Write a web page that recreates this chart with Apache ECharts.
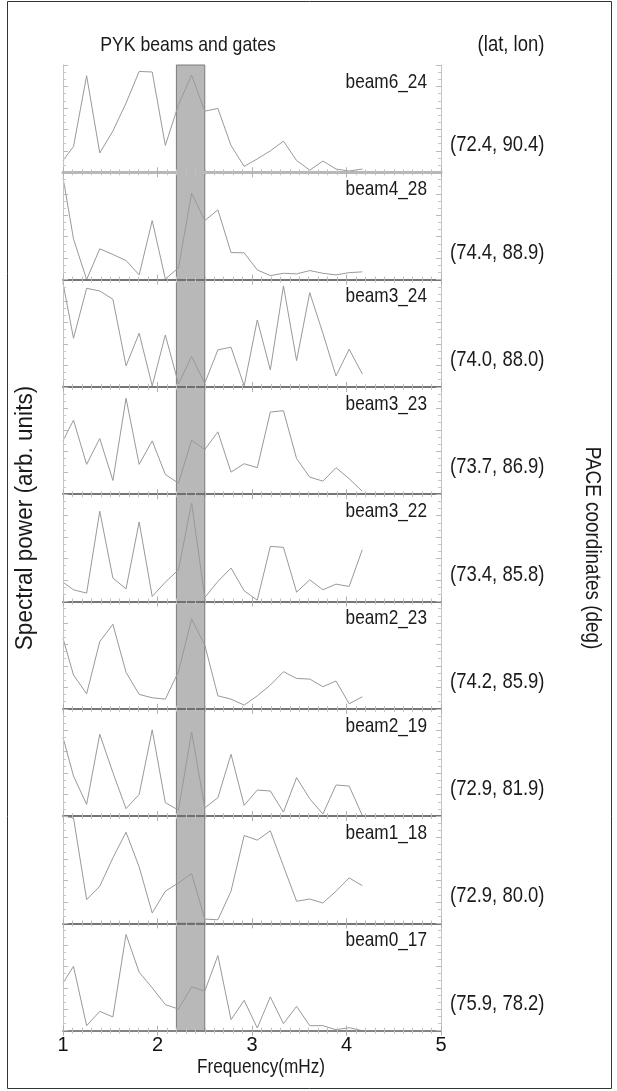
<!DOCTYPE html>
<html>
<head>
<meta charset="utf-8">
<script src="https://cdn.jsdelivr.net/npm/echarts@6/dist/echarts.min.js"></script>
<style>
html,body{margin:0;padding:0;background:#fff;}
#chart{width:617px;height:1091px;}
</style>
</head>
<body>
<div id="chart"></div>
<script>
// ---- data ----
var freqs = [1.0, 1.111, 1.25, 1.389, 1.528, 1.667, 1.806, 1.944, 2.083, 2.222, 2.361, 2.5, 2.639, 2.778, 2.917, 3.056, 3.194, 3.333, 3.472, 3.611, 3.75, 3.889, 4.028, 4.167];
var panelNames = ["beam6_24", "beam4_28", "beam3_24", "beam3_23", "beam3_22", "beam2_23", "beam2_19", "beam1_18", "beam0_17"];
var coordLabels = ["(72.4, 90.4)", "(74.4, 88.9)", "(74.0, 88.0)", "(73.7, 86.9)", "(73.4, 85.8)", "(74.2, 85.9)", "(72.9, 81.9)", "(72.9, 80.0)", "(75.9, 78.2)"];
var beam6_24 = [0.11, 0.24, 0.90, 0.18, 0.385, 0.645, 0.94, 0.935, 0.25, 0.63, 0.905, 0.57, 0.595, 0.25, 0.055, 0.125, 0.20, 0.29, 0.11, 0.02, 0.105, 0.03, 0.012, 0.03];
var beam4_28 = [0.95, 0.38, 0.0, 0.287, 0.234, 0.178, 0.044, 0.55, 0.006, 0.109, 0.807, 0.55, 0.65, 0.252, 0.249, 0.09, 0.037, 0.059, 0.053, 0.084, 0.059, 0.044, 0.065, 0.072];
var beam3_24 = [0.97, 0.453, 0.919, 0.894, 0.817, 0.196, 0.50, 0.01, 0.484, 0.028, 0.283, 0.034, 0.345, 0.37, 0.01, 0.624, 0.158, 0.941, 0.245, 0.879, 0.50, 0.102, 0.351, 0.121];
var beam3_23 = [0.50, 0.69, 0.278, 0.519, 0.128, 0.894, 0.278, 0.497, 0.184, 0.103, 0.503, 0.416, 0.581, 0.206, 0.284, 0.247, 0.766, 0.778, 0.331, 0.159, 0.122, 0.247, 0.144, 0.028];
var beam3_22 = [0.18, 0.109, 0.078, 0.841, 0.218, 0.118, 0.741, 0.047, 0.18, 0.296, 0.919, 0.037, 0.187, 0.312, 0.10, 0.012, 0.514, 0.505, 0.087, 0.202, 0.109, 0.162, 0.14, 0.483];
var beam2_23 = [0.657, 0.315, 0.14, 0.626, 0.788, 0.34, 0.134, 0.103, 0.09, 0.346, 0.838, 0.595, 0.121, 0.09, 0.034, 0.121, 0.221, 0.346, 0.283, 0.277, 0.206, 0.259, 0.047, 0.112];
var beam2_19 = [0.732, 0.374, 0.109, 0.763, 0.405, 0.069, 0.202, 0.804, 0.125, 0.056, 0.785, 0.078, 0.171, 0.576, 0.10, 0.243, 0.234, 0.037, 0.358, 0.162, 0.019, 0.29, 0.28, 0.006];
var beam1_18 = [1.0, 0.984, 0.221, 0.346, 0.611, 0.85, 0.526, 0.097, 0.30, 0.377, 0.464, 0.04, 0.034, 0.30, 0.819, 0.776, 0.863, 0.533, 0.206, 0.227, 0.19, 0.30, 0.424, 0.352];
var beam0_17 = [0.445, 0.60, 0.047, 0.18, 0.128, 0.897, 0.545, 0.40, 0.243, 0.202, 0.408, 0.368, 0.70, 0.103, 0.283, 0.025, 0.315, 0.065, 0.227, 0.047, 0.047, 0.009, 0.028, 0.0];
var xTicks = [1, 2, 3, 4, 5];
var bandRange = [2.2, 2.5];
var seriesValues = [beam6_24, beam4_28, beam3_24, beam3_23, beam3_22, beam2_23, beam2_19, beam1_18, beam0_17];

// ---- layout ----
var FONT = "'Liberation Sans', Arial, sans-serif";
var plotLeft = 63, plotWidth = 378, plotTop = 65, panelH = 107.3;
var nPanels = panelNames.length;

function makeX(i, pos, lineColor, lineWidth, showLabel) {
  return {
    type: 'value', gridIndex: i, position: pos,
    min: xTicks[0], max: xTicks[xTicks.length - 1], interval: 1,
    splitLine: {show: false}, z: 10,
    axisLine: {show: true, lineStyle: {color: lineColor, width: lineWidth}},
    axisTick: {show: true, inside: true, length: 5, lineStyle: {color: '#b0b0b0', width: 1}},
    minorTick: {show: true, splitNumber: 10, length: 3, lineStyle: {color: '#c0c0c0', width: 1}},
    axisLabel: {show: showLabel, color: '#111', fontSize: 20, fontFamily: FONT, margin: 5}
  };
}
function makeY(i, pos) {
  return {
    type: 'value', gridIndex: i, position: pos, min: 0, max: 1, interval: 0.2,
    splitLine: {show: false}, z: 10,
    axisLine: {show: true, lineStyle: {color: '#c4c4c4', width: 1}},
    axisLabel: {show: false},
    axisTick: {show: true, inside: true, length: 5, lineStyle: {color: '#b8b8b8'}},
    minorTick: {show: true, splitNumber: 3, length: 3, lineStyle: {color: '#c8c8c8'}}
  };
}
function txt(s, x, y, size, sx, align, rot) {
  return {
    type: 'text', x: x, y: y, scaleX: sx, scaleY: 1, rotation: rot || 0, silent: true,
    style: {text: s, fill: '#1a1a1a', font: size + 'px ' + FONT, align: align, verticalAlign: 'middle'}
  };
}

var grids = [], xAxes = [], yAxes = [], seriesList = [], graphics = [];
for (var i = 0; i < nPanels; i++) {
  var pTop = plotTop + i * panelH;
  grids.push({left: plotLeft, width: plotWidth, top: pTop, height: panelH});
  var isLast = (i === nPanels - 1), isFirst = (i === 0);
  xAxes.push(makeX(i, 'bottom', isLast ? '#b8b8b8' : '#6e6e6e', 1.5, isLast));
  xAxes.push(makeX(i, 'top', isFirst ? '#b8b8b8' : '#6e6e6e', isFirst ? 3 : 1.5, false));
  yAxes.push(makeY(i, 'left'));
  yAxes.push(makeY(i, 'right'));

  var vals = seriesValues[i];
  var pts = [];
  for (var k = 0; k < freqs.length; k++) pts.push([freqs[k], vals[k]]);
  seriesList.push({
    type: 'line', xAxisIndex: 2 * i, yAxisIndex: 2 * i, data: pts,
    showSymbol: false, symbol: 'none', clip: true,
    lineStyle: {color: '#999999', width: 1},
    markArea: {
      silent: true,
      itemStyle: {color: '#b8b8b8', opacity: 1, borderColor: '#7a7a7a', borderWidth: 1},
      data: [[{xAxis: bandRange[0]}, {xAxis: bandRange[1]}]]
    }
  });

  graphics.push(txt(panelNames[i], 427, pTop + 17, 21, 0.82, 'right'));
  graphics.push(txt(coordLabels[i], 450, pTop + panelH - 27, 22, 0.84, 'left'));
}

graphics.push({type: 'rect', shape: {x: 7.5, y: 1.5, width: 604, height: 1087}, style: {fill: 'none', stroke: '#333', lineWidth: 1}, silent: true});
graphics.push(txt('PYK beams and gates', 188, 45, 21, 0.84, 'center'));
graphics.push(txt('(lat, lon)', 511, 45, 22, 0.84, 'center'));
graphics.push(txt('Frequency(mHz)', 261, 1067, 21, 0.82, 'center'));
graphics.push(txt('Spectral power (arb. units)', 26, 518, 23, 0.98, 'center', Math.PI / 2));
graphics.push(txt('PACE coordinates (deg)', 592, 548, 22, 0.86, 'center', -Math.PI / 2));

var chart = echarts.init(document.getElementById('chart'), null, {renderer: 'canvas'});
chart.setOption({
  animation: false,
  backgroundColor: '#ffffff',
  grid: grids,
  xAxis: xAxes,
  yAxis: yAxes,
  series: seriesList,
  graphic: {elements: graphics}
});
</script>
</body>
</html>
